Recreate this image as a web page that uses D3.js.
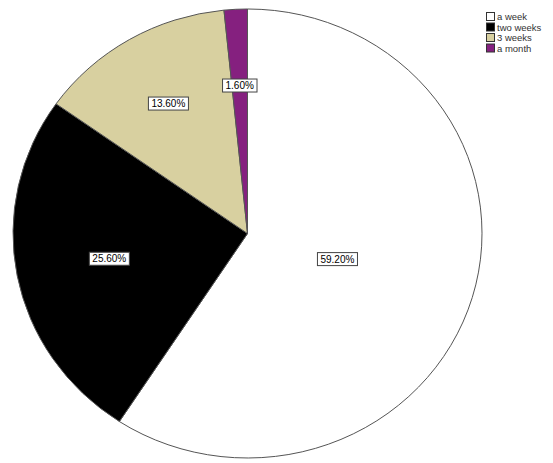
<!DOCTYPE html>
<html><head><meta charset="utf-8">
<script src="https://cdn.jsdelivr.net/npm/d3@7"></script>
<style>body{margin:0;background:#fff}svg{display:block}</style>
</head><body>
<script>
const categories = ["a week", "two weeks", "3 weeks", "a month"];
const values = [59.2, 25.6, 13.6, 1.6];
const labels = ["59.20%", "25.60%", "13.60%", "1.60%"];
const colors = ["#ffffff", "#000000", "#d8d0a0", "#85207f"];
const labelFrac = [0.4, 0.6, 0.67, 0.66];

const W = 553, H = 463;
const cx = 247.5, cy = 233.5, rx = 234.5, ry = 224.5;
const sy = ry / rx;

const svg = d3.select("body").append("svg").attr("width", W).attr("height", H);

const pie = d3.pie().sort(null).value(d => d)(values);
const arc = d3.arc().innerRadius(0).outerRadius(rx);

const g = svg.append("g").attr("transform", `translate(${cx},${cy}) scale(1,${sy})`);
g.selectAll("path").data(pie).enter().append("path")
  .attr("d", arc)
  .attr("fill", (d, i) => colors[i])
  .attr("stroke", "#555")
  .attr("stroke-width", 1)
  .attr("vector-effect", "non-scaling-stroke");

const lg = svg.append("g");
pie.forEach((d, i) => {
  const a = (d.startAngle + d.endAngle) / 2;
  const r = rx * labelFrac[i];
  const x = cx + Math.sin(a) * r;
  const y = cy - Math.cos(a) * r * sy;
  const t = lg.append("text").attr("x", x).attr("y", y + 3.5)
    .attr("text-anchor", "middle")
    .attr("font-family", "Liberation Sans, Arial, sans-serif")
    .attr("font-size", 10).attr("fill", "#000").text(labels[i]);
  const bb = t.node().getBBox();
  lg.insert("rect", "text").attr("x", bb.x - 3).attr("y", bb.y - 1)
    .attr("width", bb.width + 6).attr("height", bb.height + 2)
    .attr("fill", "#fff").attr("stroke", "#444").attr("stroke-width", 1);
});

const leg = svg.append("g").attr("transform", "translate(486,12)");
categories.forEach((c, i) => {
  const row = leg.append("g").attr("transform", `translate(0,${i * 10.5})`);
  row.append("rect").attr("x", 0.5).attr("y", 0.5).attr("width", 8).attr("height", 8)
    .attr("fill", colors[i]).attr("stroke", "#333");
  row.append("text").attr("x", 11).attr("y", 8)
    .attr("font-family", "Liberation Sans, Arial, sans-serif")
    .attr("font-size", 9.5).attr("fill", "#333").text(c);
});
</script>
</body></html>
